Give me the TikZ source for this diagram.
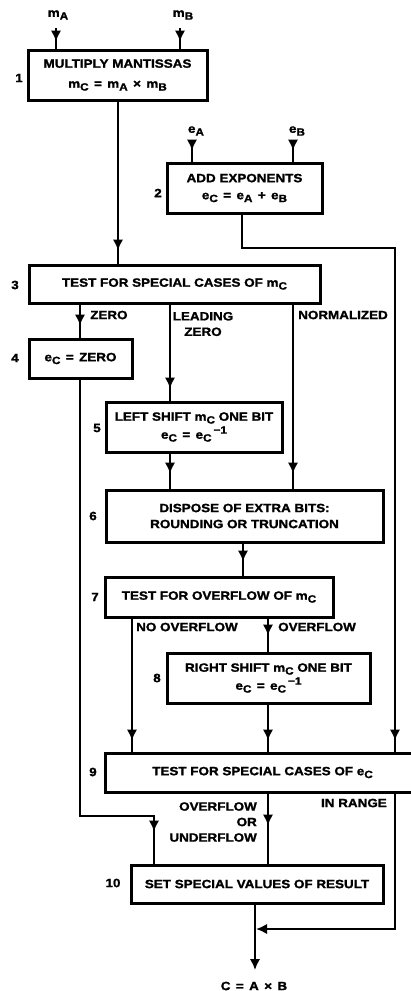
\documentclass[tikz,border=0pt]{standalone}
\usepackage{fontspec}
\setmainfont{Liberation Sans}[FakeStretch=1.12, BoldFeatures={FakeBold=1.5}]
\usetikzlibrary{arrows.meta,decorations.markings}
\newcommand\sbs[1]{\raisebox{-0.45ex}{\fontsize{10.5}{11}\selectfont #1}}
\newcommand\sps[1]{\raisebox{0.8ex}{\fontsize{10.5}{11}\selectfont #1}}
\newcommand\wsp{\hspace{0.45em}}
\tikzset{
  box/.style={draw, line width=3pt, inner sep=0pt, align=center, font=\fontsize{12}{17}\selectfont\bfseries},
  lbl/.style={inner sep=0pt, align=center, font=\fontsize{12}{15.5}\selectfont\bfseries},
  conn/.style={line width=2.2pt},
  tipat/.style={postaction={decorate}, decoration={markings, mark=at position #1 with {\arrow{Latex[length=11pt,width=10.5pt]}}}},
  endtip/.style={-{Latex[length=11pt,width=10.5pt]}},
}
\begin{document}
\begin{tikzpicture}[x=1pt, y=-1pt]
\useasboundingbox (0,0) rectangle (410,991);
\fill[white] (0,0) rectangle (410,991);

% boxes
\node[box, minimum width=179pt, minimum height=50pt] (b1) at (117.5,75) {MULTIPLY MANTISSAS\\[3pt]m\sbs{C}\wsp=\wsp m\sbs{A}\wsp×\wsp m\sbs{B}};
\node[box, minimum width=155pt, minimum height=50pt] (b2) at (244.5,188) {ADD EXPONENTS\\e\sbs{C}\wsp=\wsp e\sbs{A}\wsp+\wsp e\sbs{B}};
\node[box, minimum width=291pt, minimum height=38pt] (b3) at (174.5,284) {TEST FOR SPECIAL CASES OF m\sbs{C}};
\node[box, minimum width=103pt, minimum height=39pt] (b4) at (80.5,358.5) {e\sbs{C}\wsp=\wsp ZERO};
\node[box, minimum width=176pt, minimum height=50pt] (b5) at (194,427) {LEFT SHIFT m\sbs{C} ONE BIT\\[1pt]e\sbs{C}\wsp=\wsp e\sbs{C}\,\sps{−1}};
\node[box, minimum width=277pt, minimum height=52pt] (b6) at (244.5,516) {DISPOSE OF EXTRA BITS:\\[-1pt]ROUNDING OR TRUNCATION};
\node[box, minimum width=228pt, minimum height=40pt] (b7) at (219,597) {TEST FOR OVERFLOW OF m\sbs{C}};
\node[box, minimum width=203pt, minimum height=50pt] (b8) at (268.5,678) {RIGHT SHIFT m\sbs{C} ONE BIT\\[1pt]e\sbs{C}\wsp=\wsp e\sbs{C}\,\sps{−1}};
\node[box, minimum width=315pt, minimum height=39pt] (b9) at (262.5,772.5) {TEST FOR SPECIAL CASES OF e\sbs{C}};
\node[box, minimum width=252pt, minimum height=38pt] (b10) at (257,884) {SET SPECIAL VALUES OF RESULT};

% step numbers
\node[lbl] (n1) at (19,78) {1};
\node[lbl] (n2) at (158,193) {2};
\node[lbl] (n3) at (15,285) {3};
\node[lbl] (n4) at (15,358) {4};
\node[lbl] (n5) at (97,428) {5};
\node[lbl] (n6) at (93,516) {6};
\node[lbl] (n7) at (95,597) {7};
\node[lbl] (n8) at (157,678) {8};
\node[lbl] (n9) at (93,772) {9};
\node[lbl] (n10) at (113,883) {10};

% input / output labels
\node[lbl] (lmA) at (58,15) {m\sbs{A}};
\node[lbl] (lmB) at (183,15) {m\sbs{B}};
\node[lbl] (leA) at (196,131) {e\sbs{A}};
\node[lbl] (leB) at (297,131) {e\sbs{B}};
\node[lbl] (res) at (254,986) {C\wsp=\wsp A\wsp×\wsp B};

% branch labels
\node[lbl, anchor=west] (tz) at (90,315) {ZERO};
\node[lbl] (tlz) at (203,324) {LEADING\\ZERO};
\node[lbl, anchor=west] (tn) at (298,315) {NORMALIZED};
\node[lbl, anchor=west] (tno) at (136,627) {NO OVERFLOW};
\node[lbl, anchor=west] (tov) at (278,627) {OVERFLOW};
\node[lbl, align=right, anchor=east] (tou) at (257,822) {OVERFLOW\\OR\\UNDERFLOW};
\node[lbl, anchor=east] (tir) at (387,803) {IN RANGE};

% column coordinates
\coordinate (ia) at (56,28);
\coordinate (ib) at (180,28);
\coordinate (ea) at (192,140);
\coordinate (eb) at (293,140);
\coordinate (k118) at (118,0);
\coordinate (k80) at (80,0);
\coordinate (k132) at (132,0);
\coordinate (k170) at (170,0);
\coordinate (k243) at (243,0);
\coordinate (k268) at (268,0);
\coordinate (k293) at (293,0);
\coordinate (c2) at (242,248);
\coordinate (r1) at (395,248);
\coordinate (c4) at (154,816);
\coordinate (j) at (255,929);
\coordinate (out) at (255,970);

% connectors
\draw[conn, tipat=-7pt] (ia) -- (b1.north -| ia);
\draw[conn, tipat=-7pt] (ib) -- (b1.north -| ib);
\draw[conn, tipat=-11pt] (ea) -- (b2.north -| ea);
\draw[conn, tipat=-11pt] (eb) -- (b2.north -| eb);
\draw[conn, tipat=-13pt] (b1.south -| k118) -- (b3.north -| k118);
\draw[conn, tipat=-11pt] (b2.south -| c2) -- (c2) -- (r1) -- (b9.north -| r1);
\draw[conn, tipat=-12pt] (b3.south -| k80) -- (b4.north -| k80);
\draw[conn, tipat=-12pt] (b3.south -| k170) -- (b5.north -| k170);
\draw[conn, tipat=-15pt] (b3.south -| k293) -- (b6.north -| k293);
\draw[conn, tipat=-15pt] (b5.south -| k170) -- (b6.north -| k170);
\draw[conn, tipat=-14pt] (b6.south -| k243) -- (b7.north -| k243);
\draw[conn, tipat=-11pt] (b7.south -| k132) -- (b9.north -| k132);
\draw[conn, tipat=-16pt] (b7.south -| k268) -- (b8.north -| k268);
\draw[conn, tipat=-11pt] (b8.south -| k268) -- (b9.north -| k268);
\draw[conn, tipat=-38pt] (b9.south -| k268) -- (b10.north -| k268);
\draw[conn, tipat=-32pt] (b4.south -| k80) |- (c4) -- (b10.north -| c4);
\draw[conn, endtip, shorten >=1pt] (b9.south -| r1) |- (j);
\draw[conn, endtip] (b10.south -| out) -- (out);
\end{tikzpicture}
\end{document}
